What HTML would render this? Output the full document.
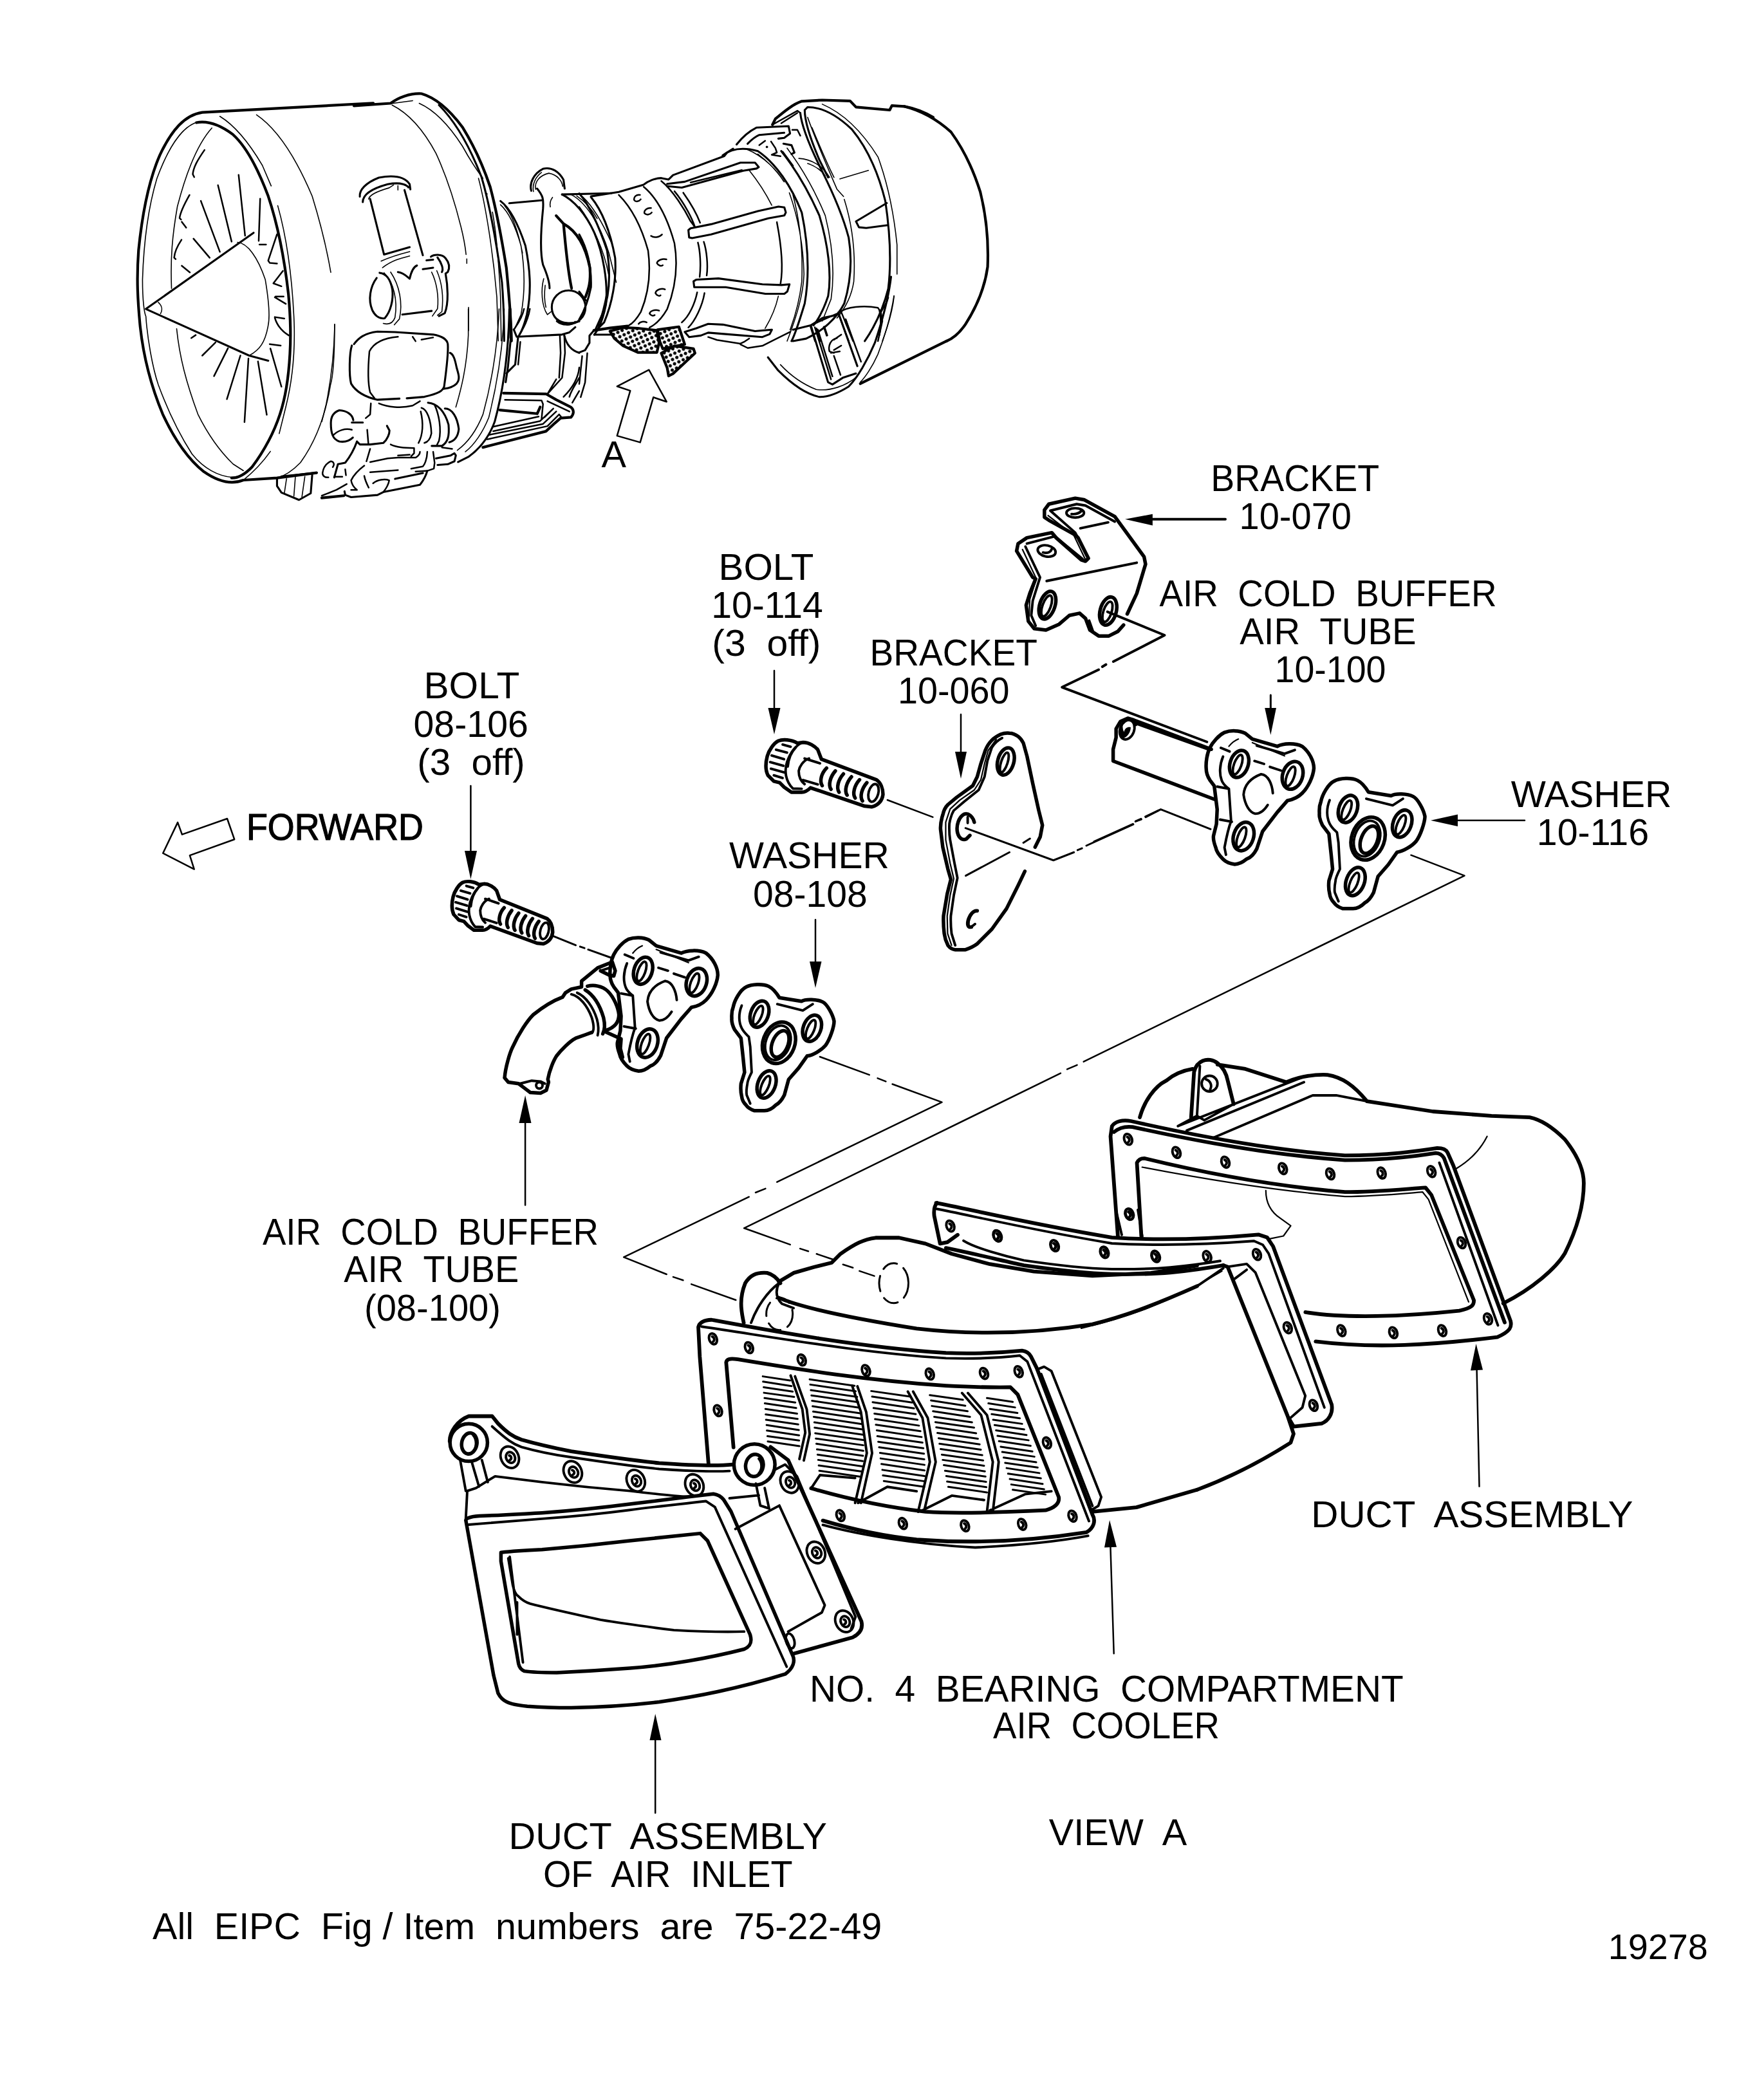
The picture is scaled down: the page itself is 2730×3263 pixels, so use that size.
<!DOCTYPE html>
<html><head><meta charset="utf-8"><title>Figure 19278</title>
<style>
html,body{margin:0;padding:0;background:#fff;}
body{width:2730px;height:3263px;overflow:hidden;}
svg{display:block;}
text{font-family:"Liberation Sans",sans-serif;font-size:58px;fill:#000;}
.k{fill:none;stroke:#000;stroke-width:3.1;stroke-linecap:round;stroke-linejoin:round;vector-effect:non-scaling-stroke;}
.t{fill:none;stroke:#000;stroke-width:1.6;stroke-linecap:round;stroke-linejoin:round;vector-effect:non-scaling-stroke;}
.m{fill:none;stroke:#000;stroke-width:2.5;stroke-linecap:round;stroke-linejoin:round;vector-effect:non-scaling-stroke;}
.h{fill:none;stroke:#000;stroke-width:4.2;stroke-linecap:round;stroke-linejoin:round;vector-effect:non-scaling-stroke;}
.w{fill:#fff;stroke:#000;stroke-width:3.1;stroke-linecap:round;stroke-linejoin:round;vector-effect:non-scaling-stroke;}
.p{fill:none;stroke:#000;stroke-width:5.5;stroke-linecap:round;stroke-linejoin:round;vector-effect:non-scaling-stroke;}
.heavy .h{stroke-width:5.8;}.heavy .k{stroke-width:3.9;}.heavy .m{stroke-width:3;}.heavy .t{stroke-width:2.2;}
.f{fill:#000;stroke:none;}
</style></head><body>
<svg width="2730" height="3263" viewBox="0 0 2730 3263">
<rect width="2730" height="3263" fill="#fff"/>
<!-- 10_fan.svg -->
<g id="fan" transform="translate(180,150) scale(0.22766)">
<!-- outer lip -->
<path class="h" d="M1757 45L590 108C470 125 380 230 300 400C230 560 180 800 155 1050C140 1250 150 1400 165 1560C190 1800 250 2000 320 2168C400 2340 500 2480 600 2560C700 2630 790 2650 870 2618L1100 2603L1370 2568"/>
<path class="t" d="M540 180C440 220 350 370 280 560C220 760 190 1000 182 1250C182 1400 195 1480 205 1500C215 1650 250 1850 290 1968C350 2130 430 2300 520 2440C600 2540 700 2590 790 2598C830 2596 850 2590 870 2573"/>
<!-- inner lip right -->
<path class="h" d="M550 178C620 165 700 185 800 260C900 350 980 520 1040 680C1100 860 1150 1100 1178 1350C1192 1500 1195 1640 1188 1757C1180 1900 1160 2050 1120 2168C1080 2290 1010 2420 930 2528C880 2580 830 2605 790 2603"/>
<path class="t" d="M710 135C800 190 900 300 1000 470L1060 610M1105 745C1160 940 1200 1200 1215 1500C1225 1700 1215 1900 1160 2118L1115 2300M1055 2422C1000 2500 930 2570 870 2618"/>
<path class="t" d="M960 125C1100 220 1230 420 1340 680C1420 940 1450 1100 1467 1200M1493 1555C1493 1750 1485 1900 1465 1968C1430 2180 1360 2360 1260 2498C1200 2560 1150 2590 1100 2603"/>
<!-- fan face inner ellipse -->
<path class="t" d="M655 215C560 320 480 520 420 750C385 950 372 1100 380 1310M415 1585C435 1780 480 1950 560 2168C640 2330 730 2440 800 2508L870 2553"/>
<!-- spinner -->
<path class="k" d="M940 930L205 1450L910 1768L1040 1803"/>
<path class="t" d="M830 995C900 1000 970 1100 1020 1250C1045 1400 1052 1500 1040 1560C1020 1680 980 1730 910 1768M290 1405C318 1430 318 1460 305 1482"/>
<!-- blades -->
<path class="m" d="M838 535L882 950M697 605L790 990M580 712L710 1060M530 970L640 1100M450 1155L505 1200M985 697L975 985M980 1010H1025M605 365C560 430 530 480 525 530L535 550M503 672C470 730 440 790 435 830L445 840M450 855L480 895M448 978C420 1020 400 1070 398 1100L408 1110M1100 940L1040 1120L1050 1135L1100 1140M1140 1190L1075 1275L1130 1295M1085 1370L1160 1415M1090 1365H1145M1085 1505L1150 1515M1085 1510C1100 1560 1130 1600 1180 1630M1050 1690L1125 1700M1055 1720L1130 1980M680 1678L590 1768M765 1718L670 1908M850 1768L758 2065M905 1788L878 2222M970 1808L1030 2172M545 1628L515 1648"/>
<!-- bottom stub -->
<path class="k" d="M1100 2603V2658L1130 2703L1250 2753L1330 2708L1340 2583M1130 2593L1370 2568"/>
<path class="t" d="M1165 2608L1150 2708M1225 2598L1215 2728M1290 2593L1270 2733"/>
</g>

<!-- 11_cowl.svg -->
<g id="cowl" transform="translate(550,120) scale(0.22766)">
<path class="h" d="M0 195L250 178C300 140 380 108 460 112C560 140 650 220 740 340C820 470 880 600 930 750C970 900 1000 1050 1040 1300C1060 1500 1072 1650 1075 1800"/>
<path class="k" d="M580 190C700 310 800 500 870 680C930 880 975 1150 1010 1400C1022 1550 1025 1700 1025 1800"/>
<path class="t" d="M445 178C550 225 650 330 740 470C800 580 850 650 880 690M250 180L400 160M260 190C380 250 480 370 560 520C620 650 680 820 730 1020C750 1100 760 1160 765 1210M770 1240V1270M782 1570V1730M945 920C970 1050 990 1300 1000 1500L1005 1800M850 690C900 880 950 1200 975 1500L985 1800"/>
<circle class="f" cx="905" cy="797" r="7"/>
<!-- core ring -->
<path class="k" d="M1000 845C1060 890 1120 1000 1170 1150C1200 1300 1215 1450 1180 1620C1160 1700 1140 1740 1130 1757M1060 860L1280 840"/>
<path class="t" d="M1000 870C1050 915 1100 1010 1140 1150C1165 1300 1172 1450 1140 1620L1095 1720M1030 880C1080 940 1120 1050 1150 1200"/>
<!-- inlet pipe -->
<path class="k" d="M40 815C35 770 80 720 170 685C280 665 350 685 380 730L385 765M60 852C60 800 120 760 230 730C330 712 365 740 372 752M110 830L205 1210L380 1160M345 770L470 1215"/>
<path class="t" d="M100 832C105 800 170 775 240 755L270 735M185 1255C250 1225 320 1205 380 1190M195 1300C260 1250 320 1235 380 1220M300 740V770"/>
<path class="k" d="M155 1370C110 1430 95 1520 125 1590C150 1640 185 1650 210 1645C250 1600 270 1520 262 1450C250 1380 220 1340 175 1335M330 1620L530 1595M300 1330C340 1335 360 1360 380 1375C390 1330 405 1295 430 1285"/>
<path class="t" d="M205 1335C270 1400 300 1520 280 1640C265 1680 235 1690 200 1680M250 1330C310 1420 335 1540 310 1650L275 1690M530 1330C565 1400 580 1500 570 1580L535 1630M565 1320C600 1400 612 1500 600 1600L570 1625"/>
<path class="k" d="M525 1225C545 1208 600 1205 625 1235C650 1265 655 1300 640 1330L625 1340C640 1420 648 1540 620 1610L580 1630M570 1230C600 1270 612 1310 600 1330M495 1250L540 1245M470 1310L540 1300"/>
<!-- clamp knob -->
<path class="k" d="M1210 775C1195 720 1230 655 1290 625C1350 610 1400 645 1430 700L1438 760M1250 760C1290 810 1295 830 1290 900C1275 1050 1270 1200 1290 1280C1320 1350 1335 1400 1335 1440M1420 800C1500 840 1580 930 1640 1060C1700 1200 1735 1400 1720 1550C1700 1650 1670 1720 1640 1757"/>
<path class="t" d="M1240 765C1230 710 1270 670 1330 655C1390 665 1420 710 1425 745M1225 780C1215 730 1240 680 1280 650M1355 820C1340 840 1335 860 1340 885M1295 1375C1275 1450 1280 1560 1320 1620L1345 1600M1305 1420C1298 1480 1300 1530 1310 1570"/>
<path class="h" d="M1380 945L1430 1000C1440 1100 1455 1300 1485 1440M1430 1000C1520 1050 1580 1150 1610 1300C1618 1400 1600 1450 1580 1500"/>
<circle class="k" cx="1465" cy="1570" r="115"/>
<path class="k" d="M1385 1665C1420 1695 1480 1695 1510 1670M1420 800L1757 792M1757 1757L1640 1757"/>
<path class="t" d="M1480 800C1580 850 1680 1000 1740 1200L1790 1400M1520 810C1580 850 1630 910 1660 965M1560 815C1640 890 1700 1000 1757 1130"/>
</g>

<!-- 12_gearbox.svg -->
<g id="gearbox" transform="translate(500,480) scale(0.22766)">
<path class="t" d="M88 105C85 300 60 500 30 650L0 770M1000 0V180C990 400 950 550 915 670M1210 0C1200 250 1160 500 1100 720C1060 820 1000 910 925 965M1245 0C1238 250 1200 500 1140 740C1100 840 1040 930 980 975"/>
<path class="k" d="M1280 0C1275 300 1240 550 1180 770C1140 880 1070 960 1000 1010L930 1045"/>
<!-- gearbox -->
<path class="k" d="M220 240C250 200 290 165 380 155L500 158L760 175C820 185 855 210 860 240C865 300 850 420 835 530C825 560 800 575 700 600L580 610M530 612L380 620C290 600 230 560 200 510C185 450 188 300 205 250M875 300C900 310 910 350 920 400C935 450 945 480 920 510C900 530 870 540 835 545"/>
<path class="m" d="M520 190C400 200 350 240 325 290C315 400 312 500 330 570L360 610M680 210L760 195M620 190L640 220M390 645C450 670 540 680 620 660L670 630M335 645L330 720L300 745"/>
<path class="k" d="M215 760C210 720 170 695 120 692C80 705 62 740 62 780C62 850 75 890 120 905C170 912 200 890 212 878M205 775H280M240 905L260 925H330L420 915C450 890 462 850 462 830L445 798"/>
<path class="m" d="M80 860C110 830 160 812 205 825M310 825L318 920"/>
<path class="k" d="M725 640C790 645 840 700 865 790C872 870 860 910 820 935H750M840 680C890 680 925 740 935 820C930 870 910 900 870 910"/>
<path class="m" d="M680 675C720 685 745 760 748 850C740 890 720 910 700 915M770 655C800 720 818 820 800 900L785 930M675 700C695 780 690 860 660 915M820 945L890 955"/>
<path class="m" d="M470 925C510 945 560 948 630 950V985L610 1005M330 1045L450 1020L520 1015H640C665 1000 670 990 670 975M520 1000L600 995M720 975C718 1030 700 1065 690 1075L610 1090M760 975L770 1050L765 1090L720 1105L640 1110"/>
<path class="k" d="M780 1020L880 1000L905 985L915 1000L905 1040L860 1060L790 1065M240 905C220 960 200 1000 160 1050L110 1060L85 1150"/>
<path class="m" d="M330 955L305 1040M290 1070C250 1100 215 1140 200 1170C205 1200 220 1220 240 1235H200M330 1115L520 1100M290 1140C295 1170 310 1200 320 1220M350 1190C380 1165 430 1158 460 1170C455 1200 440 1225 420 1250"/>
<path class="k" d="M500 1160L690 1120M720 1105C710 1140 690 1175 670 1200L420 1250L380 1270L200 1285L160 1270L155 1245"/>
<path class="h" d="M0 1290L150 1275"/>
<path class="m" d="M0 1275L100 1235L170 1195M75 1080C90 1060 80 1040 60 1040C30 1055 10 1085 5 1120C5 1140 20 1152 45 1150M85 1145H140M160 1095L165 1135"/>
<!-- right structure -->
<path class="h" d="M1285 0L1290 200"/>
<path class="k" d="M1310 140L1330 190L1640 175L1690 160L1730 125M1340 190L1320 380L1260 440M1290 200L1270 400L1255 500"/>
<path class="m" d="M1355 225L1340 380M1625 185L1630 300L1620 470M1655 180L1660 300L1640 470L1540 580M1600 480L1540 580M1757 400C1750 480 1700 550 1650 600M1757 470C1730 520 1700 560 1690 600M1757 560L1710 640M1420 0C1410 60 1380 130 1340 190M1380 0C1370 50 1340 100 1315 135"/>
<path class="k" d="M1655 180C1670 250 1710 285 1757 300M1605 70C1640 100 1700 105 1757 85"/>
<path class="h" d="M1240 575L1530 580L1600 620L1700 670C1725 690 1720 720 1700 740L1630 745M1215 690L1470 715L1490 670M1100 945L1530 835L1590 780L1630 745"/>
<path class="m" d="M1250 620L1500 625L1510 650L1500 750M1165 805L1480 735M1170 835L1490 765L1580 680M1140 860L1510 785L1600 700M1130 890L1540 800L1620 720L1640 745M1540 630L1690 700M1520 740L1580 680"/>
</g>

<!-- 13_core.svg -->
<defs><pattern id="dots" width="46" height="46" patternUnits="userSpaceOnUse" patternTransform="rotate(20)"><rect width="46" height="46" fill="#fff"/><circle cx="11" cy="11" r="11" fill="#000"/><circle cx="34" cy="34" r="11" fill="#000"/></pattern></defs>
<g id="core" transform="translate(900,230) scale(0.22766)">
<path class="k" d="M0 310C60 380 130 520 190 700C215 860 210 1000 160 1130L110 1240M80 335C150 420 210 560 245 750C255 900 225 1060 170 1190L130 1230M0 590C50 680 85 800 80 950C60 1050 30 1120 0 1170M0 980L45 1040"/>
<path class="t" d="M0 400C90 520 170 700 200 860M185 1000C170 1080 150 1150 130 1215"/>
<path class="k" d="M80 330L270 300L440 250C470 225 520 205 560 205L610 215L640 185L990 55L1010 30L1050 5"/>
<path class="m" d="M270 320C350 400 420 520 470 700C490 850 470 1000 420 1120C390 1170 360 1200 340 1210M440 265C530 340 600 470 650 650C675 800 655 960 600 1100C560 1170 520 1205 480 1225M560 225C640 290 720 420 760 500L790 540M650 295C720 380 770 480 790 540M710 305C770 390 810 470 825 510M810 645C825 700 832 800 822 880M850 640C870 700 880 800 870 870M805 985C790 1060 750 1150 700 1190M855 990C840 1080 790 1180 745 1225"/>
<path class="m" d="M415 320C390 315 370 335 375 355C385 370 410 365 420 350M490 410C465 405 440 425 445 445C460 460 485 455 495 440M490 600C510 615 545 610 565 590M595 760C570 752 535 765 530 785C540 805 560 808 570 800M585 965C565 955 525 965 520 990C530 1010 550 1012 555 1005M545 1110C520 1100 485 1110 480 1130C490 1145 505 1148 515 1140M460 1190C440 1180 415 1185 405 1200"/>
<!-- struts -->
<path class="k" d="M600 260L700 270L1120 155L1210 140L1225 130L1200 100H1100L720 230L600 245M745 560L750 610L770 615L900 590L1290 480L1400 460L1410 440L1400 405L1360 400L1220 430L900 520L760 548ZM780 910L785 950H1000L1270 995H1400L1420 980L1435 930L1380 935L1250 930L950 890L800 898ZM720 1255L750 1290L830 1280L880 1260L1000 1270L1250 1290L1300 1270L1315 1240L1200 1250L980 1205L880 1200L800 1230Z"/>
<path class="m" d="M760 235L1110 150M880 1290L940 1310L1100 1335L1130 1320L1160 1300M1100 1340L1150 1365L1250 1350L1330 1310L1440 1255"/>
<!-- right rings -->
<path class="k" d="M1460 1240L1580 1210L1660 1160L1757 1140"/>
<!-- dotted cooler -->
<path class="h" style="fill:url(#dots)" d="M210 1250L240 1300L300 1350L400 1395H530L545 1330L530 1245L400 1230L300 1225ZM535 1240L680 1220L720 1340L570 1370L550 1320ZM560 1400L650 1350L780 1370L790 1400L640 1540L610 1555L600 1500Z"/>
<path class="h" d="M100 1245L210 1228L330 1215"/>
<path class="k" d="M100 1245L70 1280V1330L40 1380L0 1395"/>
<path class="m" d="M20 1420L0 1610M55 1400L40 1600L10 1700"/>
</g>

<!-- 14_turbine.svg -->
<g id="turbine" transform="translate(1050,130) scale(0.22766)">
<path class="k" d="M320 490C370 450 450 430 560 460C680 540 790 700 860 880C905 1100 915 1300 880 1500C850 1600 820 1700 790 1757M720 460C800 560 900 720 980 900C1040 1100 1065 1300 1040 1450C1010 1540 980 1600 940 1650M850 200C860 300 930 460 1000 600C1080 760 1140 900 1180 1050C1205 1200 1195 1350 1150 1500C1100 1600 1000 1690 890 1740L800 1757"/>
<path class="t" d="M490 450C600 495 700 600 735 665M775 745C830 900 870 1100 875 1300C870 1450 820 1600 760 1757M560 480C660 555 720 640 740 670M800 760C850 950 868 1150 860 1350C845 1480 810 1600 780 1680M760 440C850 560 950 730 1020 900C1070 1100 1085 1300 1060 1470L1000 1620M1150 790C1200 950 1228 1150 1215 1350C1200 1450 1150 1540 1100 1600"/>
<path class="h" d="M660 280L680 240C740 190 800 140 860 120L1000 112L1190 118L1230 160L1460 180L1475 150L1560 155C1640 170 1700 195 1757 230"/>
<path class="m" d="M660 280L830 185L850 200M720 270L830 200"/>
<!-- nozzle front ring -->
<path class="k" d="M880 180L900 160C1000 160 1100 215 1200 310C1300 430 1380 600 1430 800C1460 1000 1475 1200 1450 1400C1420 1520 1370 1640 1290 1757M880 180C880 260 920 380 980 520L1040 640M1440 815L1230 940L1250 980L1300 985L1450 965"/>
<path class="t" d="M1000 140C1150 205 1280 340 1380 500C1450 690 1490 900 1510 1100V1300M1490 1450C1480 1550 1450 1650 1410 1757M900 230C960 400 1040 580 1100 720L1145 770M930 300C1000 470 1050 580 1080 640M1120 650L1315 592M840 510C920 515 1000 555 1050 640M900 545C960 565 1000 600 1020 630"/>
<path class="m" d="M1120 1560C1160 1525 1280 1510 1380 1530L1400 1560L1440 1490L1450 1460M1400 1560L1410 1620L1380 1757M920 1650L1100 1570L1120 1560M1110 1570L1180 1757M1130 1560L1210 1757M920 1660L950 1757M960 1670L985 1757M1160 1610L1190 1700M1010 1660L1030 1720"/>
<!-- top-left bracket -->
<path class="k" d="M415 415C450 370 490 330 550 300L770 290L780 340L740 370L700 375M490 410C520 380 545 360 570 350L740 335M735 410L790 420L810 470L790 480"/>
<path class="m" d="M570 420L610 390M650 395L680 440L690 470L655 485L715 495M795 315H830L850 355M730 465L800 560"/>
<circle class="f" cx="622" cy="432" r="8"/>
<!-- combustor arcs -->
<path class="t" d="M500 590C580 690 630 780 655 830M700 1450C680 1540 640 1620 610 1670"/>
<path class="m" d="M690 945C720 1100 735 1250 715 1365"/>
</g>

<!-- 15_nozzle.svg -->
<g id="nozzleA" transform="translate(1250,130) scale(0.22766)">
<path class="h" d="M680 155C800 185 900 240 1000 330C1080 440 1150 580 1200 740C1240 900 1258 1060 1250 1250C1230 1400 1170 1530 1100 1640C1060 1700 1010 1740 970 1757"/>
</g>
<g id="nozzleB" transform="translate(1150,430) scale(0.22766)">
<path class="h" d="M1409 439L820 730"/>
<path class="k" d="M1030 0C1015 130 970 300 920 450C870 570 800 690 740 750C660 800 600 822 540 820C440 800 340 720 260 640L190 550"/>
<path class="t" d="M1050 130C1030 260 990 400 940 530C900 620 850 690 820 720M275 600C340 670 420 730 520 770C620 782 720 745 800 680"/>
<path class="k" d="M485 340L600 720L630 735L700 690L790 660M670 245L800 610"/>
<path class="m" d="M950 225C965 290 960 350 950 400M720 290L825 580M510 345L620 700M530 360L630 680M575 340L595 400M640 540L685 670M660 420C620 425 598 470 610 510L640 520M640 430L690 395M640 500L690 470M620 520L680 510"/>
</g>

<!-- 20_bracket070.svg -->
<g id="bracket070" class="heavy" transform="translate(1550,740) scale(0.22766)">
<path class="p" d="M885 940L950 800L1010 600L1000 550L800 275L590 160L530 150L350 190L320 230V280L350 300L530 400L550 420L620 560L600 580L570 570L400 420L370 385L200 420L140 460L130 510L240 690L260 700L220 800L195 880L210 990L250 1040L330 1050L420 1010L490 950L560 935L600 970L630 1050L690 1090H760L820 1060L860 1015"/>
<path class="k" d="M360 235L540 190L600 200L800 310M360 235L530 385L610 545M200 460L390 410L580 565M190 480L290 690L240 850L230 950L260 1020M565 355L755 315M335 715L950 590M625 985L650 1055"/>
<path class="t" d="M345 268L520 402L600 570M170 500L265 700L220 840L215 960"/>
<ellipse class="k" cx="530" cy="250" rx="60" ry="32"/><path class="k" d="M575 235C560 250 540 262 505 258"/>
<ellipse class="k" cx="335" cy="510" rx="62" ry="38" transform="rotate(12 335 510)"/><path class="k" d="M370 495C365 515 345 528 310 520"/>
<ellipse class="p" cx="340" cy="880" rx="52" ry="98" transform="rotate(18 340 880)"/><ellipse class="k" cx="335" cy="885" rx="28" ry="75" transform="rotate(20 335 885)"/>
<ellipse class="p" cx="755" cy="920" rx="55" ry="98" transform="rotate(15 755 920)"/><ellipse class="k" cx="750" cy="925" rx="28" ry="72" transform="rotate(18 750 925)"/>
<path class="k" d="M750 925L1140 1085L790 1265M740 1285L715 1300M690 1320L440 1440L1429 1813M1555 293H1050"/>
<path class="f" d="M870 293L1058 258V336Z"/>
</g>

<!-- 21_tube100.svg -->
<defs><g id="flange" class="heavy">
<path class="p" d="M790 360C810 320 850 275 890 255C930 240 990 240 1030 260L1080 300L1250 350C1290 330 1370 325 1420 350C1470 390 1500 450 1500 500C1495 560 1460 630 1420 670C1390 700 1350 715 1320 720L1250 800L1150 930L1110 1050C1090 1090 1070 1110 1040 1120C1010 1145 990 1155 960 1155C920 1150 900 1140 880 1120C850 1090 835 1070 830 1040C815 1000 812 980 815 960L835 880L840 780L820 620L790 580C770 550 765 520 765 500C762 460 770 400 790 360Z"/>
<path class="k" d="M880 420C855 480 855 540 870 580C880 610 900 625 920 640L935 860C920 900 905 960 890 1040L900 1090M840 625L920 640M860 850L940 865M865 360L925 385M1110 345L1300 400L1370 375M1095 450L1160 470M1200 490L1275 515"/>
<path class="t" d="M920 350C940 325 960 310 985 300M1080 325L1300 415"/>
<ellipse class="p" cx="990" cy="470" rx="62" ry="95" transform="rotate(18 990 470)"/><ellipse class="k" cx="980" cy="475" rx="25" ry="70" transform="rotate(20 980 475)"/>
<ellipse class="p" cx="1355" cy="548" rx="68" ry="97" transform="rotate(18 1355 548)"/><ellipse class="k" cx="1340" cy="555" rx="25" ry="70" transform="rotate(20 1340 555)"/>
<ellipse class="p" cx="1020" cy="965" rx="68" ry="100" transform="rotate(18 1020 965)"/><ellipse class="k" cx="1005" cy="970" rx="25" ry="72" transform="rotate(20 1005 970)"/>
<path class="k" d="M1185 750C1160 790 1130 810 1100 810C1060 800 1030 750 1020 680C1025 620 1060 570 1140 540C1190 545 1215 610 1220 670"/>
</g></defs>
<g id="tube100" class="heavy" transform="translate(1700,1080) scale(0.22766)">
<path class="p" d="M285 200L270 170L230 158L180 180L150 230V290L130 370V450L830 715M270 170L800 370"/>
<ellipse class="k" cx="225" cy="237" rx="48" ry="68" transform="rotate(20 225 237)"/>
<path class="f" d="M195 195C170 230 170 280 190 300C230 290 250 250 250 220C230 215 210 225 205 250C195 240 195 215 195 195Z"/>
<path class="k" d="M300 200L770 368"/>
<use href="#flange"/>
<path class="m" d="M1205 0V100M795 915L455 780L350 830M320 845L285 860M265 880L0 1000"/>
<path class="f" d="M1205 272L1165 88H1243Z"/>
</g>

<!-- 22_washer116.svg -->
<defs><g id="washer" class="heavy">
<path class="p" d="M230 420C240 370 280 300 320 280C360 258 440 255 480 275C510 290 540 330 555 355L710 380C740 362 820 365 860 385C890 400 930 470 940 520C940 560 910 650 880 690C850 725 790 760 750 765L690 850L620 930L590 1040C570 1080 550 1100 530 1110C500 1140 470 1150 450 1150H380C350 1140 330 1125 320 1110C300 1090 292 1070 290 1050C282 1020 282 990 285 960L310 880L300 780L285 640L240 580C225 550 218 520 220 500C218 470 222 440 230 420Z"/>
<path class="k" d="M290 410C265 470 270 530 290 570C305 600 325 615 340 630L350 700L360 880C345 910 330 940 330 960C322 1000 322 1020 325 1040L350 1100M540 400L720 445L790 400"/>
<ellipse class="p" cx="415" cy="470" rx="62" ry="96" transform="rotate(20 415 470)"/><ellipse class="k" cx="405" cy="478" rx="25" ry="70" transform="rotate(22 405 478)"/>
<ellipse class="p" cx="785" cy="570" rx="62" ry="96" transform="rotate(20 785 570)"/><ellipse class="k" cx="775" cy="578" rx="25" ry="70" transform="rotate(22 775 578)"/>
<ellipse class="p" cx="465" cy="965" rx="62" ry="100" transform="rotate(20 465 965)"/><ellipse class="k" cx="455" cy="973" rx="25" ry="72" transform="rotate(22 455 973)"/>
<ellipse class="p" cx="552" cy="672" rx="112" ry="150" transform="rotate(20 552 672)"/><ellipse class="p" cx="560" cy="680" rx="55" ry="98" transform="rotate(22 560 680)"/><ellipse class="k" cx="545" cy="672" rx="85" ry="125" transform="rotate(20 545 672)"/>
</g></defs>
<g class="heavy"><use href="#washer" transform="translate(2000,1150) scale(0.22766)"/></g>


<!-- 23_bolt114.svg -->
<defs><g id="bolt" class="heavy">
<path class="p" d="M185 330C195 290 230 240 260 225C290 212 350 215 390 240L430 235C470 235 510 260 530 285L555 350L930 490C960 510 975 550 975 590C970 630 950 660 900 675L850 670L480 545C460 565 440 575 420 575H350L300 540L270 510L230 500L190 460C175 430 172 380 185 330Z"/>
<path class="k" d="M430 235C380 250 340 310 320 370C300 430 310 500 360 550L420 552M470 345C430 360 405 400 400 430C400 470 415 500 440 520M440 345L545 378M430 492L530 522"/>
<path class="k" d="M290 250L345 265M245 285L320 305M215 325L300 350M205 370L295 395M210 415L300 440M230 460L290 478M380 270C350 300 330 350 325 400"/>
<path class="p" d="M590 410C555 445 540 500 560 530M650 430C615 470 600 525 620 555M705 450C670 490 655 545 675 575M760 470C725 510 710 565 730 595M815 490C780 530 765 585 785 615M865 510C830 550 815 605 835 635"/>
<ellipse class="k" cx="910" cy="580" rx="33" ry="62" transform="rotate(15 910 580)"/>
</g></defs>
<g class="heavy"><use href="#bolt" transform="translate(1150,1100) scale(0.22766)"/></g>
<g transform="translate(1150,1100) scale(0.22766)"><path class="m" d="M1005 628L1315 745"/></g>

<!-- 24_bracket060.svg -->
<g id="bracket060" class="heavy" transform="translate(1400,1100) scale(0.22766)">
<path class="p" d="M915 950L950 880L965 800L940 700L900 520L860 330L835 240C820 210 800 195 800 195C780 180 760 172 740 172C720 170 700 172 680 180C660 190 640 200 620 220C600 240 585 265 575 290L545 380L520 470L490 530L380 610L320 660C300 680 290 705 285 730C272 770 268 800 270 830L285 950L320 1100L340 1170L315 1270L290 1420C288 1470 290 1500 295 1540C300 1580 310 1600 320 1620C335 1640 350 1648 370 1650H440C470 1640 500 1625 520 1610L620 1510L720 1370L800 1210L845 1115"/>
<path class="k" d="M690 205C660 220 635 245 620 270L590 360L570 470L530 560L430 640L360 700C345 725 335 760 330 790C328 830 330 870 335 900L365 1060L385 1160L360 1280L340 1420C338 1470 340 1500 345 1540L370 1620"/>
<path class="t" d="M650 215L595 290L570 380L545 490L500 560L400 630L335 690L305 780V900L335 1060L360 1165L335 1280L315 1420L318 1540L345 1620"/>
<ellipse class="p" cx="715" cy="365" rx="55" ry="95" transform="rotate(15 715 365)"/><ellipse class="k" cx="705" cy="372" rx="22" ry="70" transform="rotate(18 705 372)"/>
<path class="p" d="M500 780C490 740 460 715 430 725C395 745 375 800 385 850C395 890 420 905 445 895L470 870"/>
<path class="k" d="M455 745V785M520 1385C500 1375 480 1400 465 1440C455 1480 460 1500 480 1495L505 1475"/>
<path class="p" d="M520 1385C495 1380 470 1410 458 1450C450 1485 460 1500 480 1495"/>
<path class="m" d="M440 820L1040 1040L1180 985M1205 970L1235 958M1265 940L1585 795M1600 775L1640 760M1670 745L1757 700M442 1145L740 985M835 920L880 892"/>
</g>

<!-- 25_tube08.svg -->
<g id="tube08" class="heavy" transform="translate(660,1340) scale(0.22766)">
<use href="#bolt" transform="translate(34.5,-72) scale(0.86,0.93)"/>
<path class="m" d="M870 500L1030 565M1060 575L1090 585M1115 595L1270 650"/>
<path class="p" d="M545 1470C550 1400 580 1300 600 1260C640 1170 700 1080 740 1040C790 1000 860 950 940 920L960 890L1000 865L1070 850V810L1180 720L1280 680L1300 740L1290 775L1260 770L1200 740M840 1480C850 1420 880 1350 900 1320C930 1280 990 1220 1030 1200L1100 1175L1140 1160M545 1470L570 1500L640 1510L680 1540L720 1570L790 1575L830 1555L845 1500L840 1480"/>
<path class="k" d="M650 1510L730 1490L790 1495L820 1510M1200 740L1260 720"/>
<circle class="k" cx="782" cy="1522" r="22"/>
<path class="k" d="M1000 900C1060 915 1110 980 1140 1060C1155 1110 1155 1150 1140 1165M1040 890C1100 915 1150 990 1175 1070C1188 1120 1185 1160 1180 1180"/>
<path class="p" d="M1095 870C1160 910 1200 990 1220 1060C1232 1110 1225 1150 1215 1170M1110 845C1150 835 1210 840 1250 880C1290 920 1320 990 1325 1040C1325 1090 1300 1125 1240 1145M1240 1160L1340 1205L1335 1270L1350 1330"/>
<use href="#flange" transform="translate(499.9,269.25)"/>
</g>
<g class="heavy"><use href="#washer" transform="translate(940,1440) scale(0.22766) translate(652,140) scale(0.97)"/></g>

<!-- 30_ductR.svg -->
<defs><g id="bh" class="heavy"><ellipse class="k" cx="0" cy="0" rx="13" ry="19" transform="rotate(-20)"/><path class="k" d="M-3 -8C5 -5 7 5 0 10"/></g></defs>
<g id="ductR" class="heavy" transform="translate(1680,1620) scale(0.45532)">
<!-- body -->
<path class="h" d="M200 255C215 200 250 150 290 130C320 105 350 95 380 90M375 255L385 100C390 80 400 68 415 62C430 56 450 58 465 70C485 85 495 105 500 130L520 210M465 75L560 90L700 135M700 135C740 118 790 108 840 110C890 118 930 145 975 200L1200 235L1400 250L1530 255C1580 265 1620 300 1650 330C1690 380 1715 430 1715 480C1715 540 1700 620 1650 720C1620 770 1540 840 1440 890"/>
<path class="k" d="M330 285L750 120M360 300L760 135M450 325L790 180H870L975 200M405 80L395 250L330 285M395 250L420 265L520 210"/>
<circle class="k" cx="438" cy="140" r="27"/><path class="k" d="M425 125C440 130 448 145 440 160"/>
<path class="t" d="M630 505C630 550 650 580 680 600L715 625L690 660L640 670M1280 430C1330 400 1365 360 1385 320M0 975C150 940 300 890 480 780"/>
<!-- flange outer -->
<path class="h" d="M125 660L100 320L105 285C115 270 140 262 170 268C400 320 650 368 900 385C1050 385 1150 370 1215 360C1235 360 1245 365 1250 375L1270 420L1465 950C1470 970 1465 985 1420 1005C1200 1032 1000 1045 800 1020"/>
<path class="h" d="M112 305C130 290 150 285 175 288C400 338 650 384 900 401C1050 401 1150 386 1210 377C1225 378 1232 384 1238 394L1445 955"/><path class="k" d="M1222 410L1422 965"/>
<!-- opening -->
<path class="h" d="M205 660L190 410C195 400 205 395 215 395C400 440 650 490 900 510C1000 510 1100 500 1175 495L1195 520L1340 880C1340 895 1335 905 1290 915C1100 935 900 942 765 920"/>
<path class="t" d="M208 425C400 462 650 505 900 525C1000 525 1100 515 1165 510L1185 535L1322 885"/>
<use href="#bh" x="160" y="330"/><use href="#bh" x="325" y="375"/><use href="#bh" x="492" y="408"/><use href="#bh" x="688" y="430"/><use href="#bh" x="850" y="448"/><use href="#bh" x="1025" y="445"/><use href="#bh" x="1195" y="440"/><use href="#bh" x="165" y="585"/><use href="#bh" x="1298" y="683"/><use href="#bh" x="1388" y="943"/><use href="#bh" x="888" y="983"/><use href="#bh" x="1065" y="990"/><use href="#bh" x="1232" y="983"/>
</g>

<!-- 31_cooler.svg -->
<g id="cooler" class="heavy" transform="translate(1060,1880) scale(0.45532)">
<!-- top body -->
<path class="h" d="M330 245L380 215L450 195L510 180L540 150C590 115 620 100 660 95H740L830 115L920 150L1050 185L1200 210L1400 225L1600 215L1757 190M330 300C400 330 550 365 800 405C1000 428 1200 422 1400 390C1500 365 1600 330 1757 260"/>
<path class="h" d="M210 385C200 340 195 300 215 250C230 225 250 212 290 215C310 220 325 235 335 250"/>
<path class="k" d="M235 385C255 330 290 280 330 250C318 275 320 300 340 320L380 335"/>
<ellipse class="m" cx="332" cy="355" rx="45" ry="55" stroke-dasharray="22 12"/>
<ellipse class="m" cx="722" cy="250" rx="50" ry="68" stroke-dasharray="24 12"/>
<!-- front flange -->
<path class="h" d="M90 870L60 500L55 400C58 385 75 375 100 375C300 412 600 468 900 488C1000 492 1100 486 1160 480C1175 482 1185 490 1190 500L1210 540L1400 1040C1412 1060 1405 1085 1380 1100C1200 1128 1000 1140 800 1125C700 1115 580 1090 480 1060"/>
<path class="k" d="M66 398C300 432 600 487 900 506C1000 509 1100 503 1152 497L1178 518L1388 1062M480 1075C600 1108 800 1142 1000 1152C1200 1142 1300 1128 1385 1112"/>
<path class="h" d="M175 810L150 520C152 510 160 505 190 510C400 545 620 580 900 600C1000 605 1060 606 1120 605L1145 630L1285 980C1288 1000 1275 1015 1240 1025C1040 1035 900 1035 830 1030C700 1015 560 985 440 950"/>
<!-- dividers -->
<path class="k" d="M370 565L410 680L420 760L400 850M385 568L425 680L435 765L415 855M580 600L610 690L630 830L590 1000M598 602L628 690L648 830L610 1000M770 620L820 710L845 860L805 1030M788 620L838 710L865 860L825 1030M955 625L1020 700L1060 860L1040 1030M975 625L1040 700L1080 860L1060 1030M600 1000L700 945L800 960M820 1025L920 975L1030 990M1050 1025L1170 970L1260 960M440 950L470 905L590 915"/>
<path class="m" d="M275 568 L368 582M276 586 L373 601M278 605 L377 620M279 624 L382 638M281 642 L386 657M282 660 L389 676M284 679 L392 695M285 698 L394 713M286 716 L396 732M288 734 L398 751M289 753 L399 769M291 772 L399 787M292 790 L400 806M435 578 L588 600M437 596 L592 619M439 615 L597 638M441 633 L601 656M443 651 L604 675M445 670 L608 694M447 688 L611 712M449 706 L613 731M451 725 L615 749M452 743 L617 767M454 762 L618 785M456 780 L618 803M458 798 L618 822M460 817 L617 839M462 835 L616 857M464 853 L615 875M466 872 L614 893M468 890 L612 911M645 618 L778 637M648 637 L785 657M650 656 L791 677M653 676 L797 697M656 695 L803 716M658 714 L808 736M661 733 L813 755M664 752 L817 775M666 772 L820 794M669 791 L823 813M672 810 L825 832M675 829 L826 851M677 848 L827 870M680 867 L827 889M683 887 L827 908M685 906 L827 926M688 925 L826 945M845 632 L958 648M849 650 L966 668M852 669 L974 687M856 687 L982 706M860 706 L989 725M864 724 L996 743M867 742 L1003 762M871 761 L1009 781M875 779 L1015 800M878 798 L1019 818M882 816 L1024 837M886 835 L1027 855M889 853 L1030 873M893 871 L1033 892M897 890 L1035 910M901 908 L1037 928M904 927 L1038 946M908 945 L1040 964M1040 642 L1128 655M1045 660 L1136 674M1050 679 L1144 693M1056 697 L1152 711M1061 716 L1160 730M1066 734 L1167 749M1071 752 L1175 768M1076 771 L1182 786M1081 789 L1189 805M1087 808 L1195 824M1092 826 L1202 842M1097 845 L1208 861M1102 863 L1213 879M1107 881 L1219 898M1112 900 L1224 916M1118 918 L1230 935M1123 937 L1235 953M1128 955 L1240 971"/>
<!-- right side plate -->
<path class="k" d="M1210 545L1235 535L1260 550L1430 980L1420 1010L1395 1025M1225 560L1400 1010"/><path class="h" d="M1400 1030L1550 1015L1757 955"/>
<!-- rear flange top edge -->
<path class="h" d="M905 110L880 115L860 20C858 0 860 -15 870 -24M905 110L940 85M900 130C1000 150 1100 175 1166 189C1300 208 1400 217 1466 219C1550 220 1620 218 1666 214C1750 205 1800 197 1846 189"/>
<path class="k" d="M960 105C1000 130 1100 158 1166 172C1300 192 1400 200 1466 202C1550 203 1620 200 1666 196C1750 188 1800 180 1836 174M1480 0L1500 85M1555 0L1570 90"/>
<use href="#bh" x="105" y="440"/><use href="#bh" x="228" y="470"/><use href="#bh" x="408" y="512"/><use href="#bh" x="627" y="548"/><use href="#bh" x="845" y="560"/><use href="#bh" x="1030" y="558"/><use href="#bh" x="1148" y="552"/><use href="#bh" x="122" y="685"/><use href="#bh" x="1245" y="795"/><use href="#bh" x="1332" y="1045"/><use href="#bh" x="540" y="1043"/><use href="#bh" x="753" y="1070"/><use href="#bh" x="965" y="1078"/><use href="#bh" x="1160" y="1073"/><use href="#bh" x="915" y="55"/><use href="#bh" x="1075" y="88"/><use href="#bh" x="1270" y="122"/><use href="#bh" x="1440" y="145"/><use href="#bh" x="1615" y="158"/><use href="#bh" x="1525" y="15"/>
</g>

<!-- 32_coolerRear.svg -->
<g id="coolerRear" class="heavy" transform="translate(1500,1850) scale(0.45532)">
<path class="h" d="M-100 42C0 60 200 110 500 160C650 170 800 168 1000 150L1030 160L1050 190L1250 730C1255 760 1240 785 1215 795L1120 805M880 255L895 260L1100 770L1120 805M790 1021C900 980 1000 930 1110 860L1120 830L1100 770"/>
<path class="k" d="M-100 62C0 80 200 130 500 180C650 188 800 186 985 172L1015 185L1035 215L1225 740M895 260L960 250L990 280L1160 700L1150 740L1110 775M920 300L960 270M791 326L880 265"/>
<use href="#bh" x="110" y="155"/><use href="#bh" x="305" y="188"/><use href="#bh" x="475" y="210"/><use href="#bh" x="650" y="225"/><use href="#bh" x="825" y="225"/><use href="#bh" x="995" y="218"/><use href="#bh" x="1100" y="468"/><use href="#bh" x="1188" y="733"/>
</g>

<!-- 33_ductL.svg -->
<defs><g id="bb" class="heavy"><ellipse class="k" cx="0" cy="0" rx="30" ry="38" transform="rotate(-25)"/><ellipse class="k" cx="2" cy="2" rx="15" ry="19" transform="rotate(-25)"/><path class="k" d="M-2 -6C6 -4 8 6 0 10"/></g></defs>
<g id="ductL" class="heavy" transform="translate(660,2180) scale(0.45532)">
<!-- rear frame -->
<circle class="p" cx="150" cy="135" r="64"/><ellipse class="p" cx="152" cy="138" rx="26" ry="36" transform="rotate(10 152 138)"/><path class="k" d="M165 110C178 125 178 150 165 165"/>
<path class="h" d="M85 130C85 100 110 60 150 45H230L250 70C280 100 300 115 330 125C400 145 450 155 500 165C600 180 700 195 800 205C900 212 1000 215 1050 210"/>
<path class="k" d="M230 80C280 125 300 140 330 150C400 170 450 178 500 185C600 200 700 215 800 225C900 232 1000 234 1040 232M175 290L240 250C300 258 350 264 400 270C500 282 600 292 700 300C800 312 860 318 900 320L945 315M140 395L145 300L175 290M160 200L185 285M195 195L215 270M120 190L140 300"/>
<use href="#bb" x="290" y="185"/><use href="#bb" x="505" y="235"/><use href="#bb" x="720" y="265"/><use href="#bb" x="920" y="280"/>
<!-- right lug & arm -->
<circle class="p" cx="1125" cy="210" r="70"/><ellipse class="p" cx="1125" cy="213" rx="30" ry="38" transform="rotate(10 1125 213)"/><path class="k" d="M1140 190C1152 205 1152 225 1140 240"/>
<path class="h" d="M1180 150L1240 195L1490 745C1495 765 1490 785 1460 800L1260 855"/>
<path class="k" d="M1190 230L1230 210L1270 250L1470 730L1455 770M1210 350L1365 690L1355 715L1240 780M1130 275L1145 350L1175 360L1160 290M1060 430L1210 350M1040 325L1140 315"/>
<use href="#bb" x="1245" y="270"/><use href="#bb" x="1335" y="510"/><use href="#bb" x="1432" y="745"/>
<ellipse class="k" cx="1247" cy="812" rx="14" ry="26" transform="rotate(-15 1247 812)"/>
<!-- front frame -->
<path class="p" d="M140 400C142 392 160 386 200 385C280 382 340 378 400 375C500 368 600 358 700 345C800 332 850 326 900 320L985 310C1000 312 1012 320 1020 330L1045 370L1255 860C1265 880 1258 905 1230 925C1150 950 1080 968 1000 985C930 1000 870 1010 800 1020C700 1032 600 1038 500 1040C440 1040 390 1038 350 1035C320 1032 295 1028 280 1020C262 1012 255 1000 250 990L235 930Z"/>
<path class="k" d="M150 415C280 405 340 400 400 395C500 388 600 378 700 365C800 352 900 342 960 335L990 355L1235 900"/>
<path class="p" d="M260 510C300 505 350 502 400 500C500 492 600 482 700 470C800 460 880 452 940 445L965 470L1110 790C1118 815 1112 830 1090 840C1020 858 960 870 900 880C830 892 770 900 700 905C610 912 520 917 450 920C400 920 360 918 340 915C328 910 322 900 320 890L260 540Z"/>
<path class="k" d="M285 530L300 620C305 645 312 655 320 660C330 670 345 680 360 685C450 708 520 722 600 740C690 755 770 765 850 775C940 780 1020 782 1090 780M290 525L335 885M315 680V790"/>
</g>

<!-- 80_arrows.svg -->
<g id="arrows" class="m">
<!-- leader arrows -->
<path d="M1203 1042V1110"/><path class="f" d="M1203 1141L1193.5 1100H1212.5Z"/>
<path d="M1493 1110V1180"/><path class="f" d="M1493 1210L1484 1168H1502Z"/>
<path d="M731.4 1221V1330"/><path class="f" d="M731.4 1366L722 1322H741Z"/>
<path d="M1267 1429V1500"/><path class="f" d="M1267 1535L1258 1494H1276.5Z"/>
<path d="M2369 1274.7H2260"/><path class="f" d="M2223 1274.7L2265 1265.5V1284Z"/>
<path d="M816.1 1872.5V1740"/><path class="f" d="M816.1 1702L806.5 1745H825.5Z"/>
<path d="M2298.5 2309.6L2294.5 2125"/><path class="f" d="M2293.5 2088L2285 2129.5L2304 2128.5Z"/>
<path d="M1730.7 2569.3L1725.3 2400"/><path class="f" d="M1724.1 2362L1716 2404.5L1735 2403.8Z"/>
<path d="M1018.2 2817V2700"/><path class="f" d="M1018.2 2663L1009.5 2704H1027.5Z"/>
<!-- bracket 10-070 arrow -->
<!-- forward arrow -->
<path d="M276.1 1277.9L282.9 1296.6L353 1272L364.2 1304.2L294.9 1329.1L301.7 1350.6L253.2 1325.7Z"/>
<!-- arrow A -->
<path d="M1008.3 574.7L958.8 600.3L979.3 607.1L958.8 677.1L994.7 687.4L1015.2 617.3L1035.7 624.2Z"/>
</g>

<!-- 81_leaders.svg -->
<g id="leaders" class="m">
<path d="M2192.4 1328.7L2275.5 1360.6L1683.7 1649.6M1673.5 1654.8L1658.1 1661.4M1647.9 1667.6L1156.1 1908.3L1227.8 1933.9M1243.2 1940.1L1256 1944.2M1268.8 1948.3L1294.4 1957M1309.8 1964.7L1325.2 1969.8M1335.4 1974.9L1358.5 1982.6"/>
<path d="M1273.9 1642L1350.8 1670.1M1363.6 1675.3L1376.4 1680.4M1386.6 1684.5L1463.5 1712.6L1207.3 1836.6M1189.4 1846.9L1174 1853M1163.8 1859.7L969.2 1953.4L1035.7 1980M1046 1984.1L1061.4 1989.3M1074.2 1995.4L1143.3 2020"/>
</g>

<!-- 90_text.svg -->
<g id="labels">
<text x="934.5" y="726" textLength="38.5" lengthAdjust="spacingAndGlyphs">A</text>
<text x="1881.2" y="763" textLength="262.0" lengthAdjust="spacingAndGlyphs">BRACKET</text>
<text x="1925.5" y="822.3" textLength="174.5" lengthAdjust="spacingAndGlyphs">10-070</text>
<text x="1801.5" y="941.8" textLength="524.0" lengthAdjust="spacingAndGlyphs" xml:space="preserve">AIR  COLD  BUFFER</text>
<text x="1926.3" y="1001.2" textLength="274.2" lengthAdjust="spacingAndGlyphs" xml:space="preserve">AIR  TUBE</text>
<text x="1980.5" y="1060.3" textLength="173.0" lengthAdjust="spacingAndGlyphs">10-100</text>
<text x="1116.5" y="901.3" textLength="148.0" lengthAdjust="spacingAndGlyphs">BOLT</text>
<text x="1105.2" y="960" textLength="173.7" lengthAdjust="spacingAndGlyphs">10-114</text>
<text x="1106.3" y="1019" textLength="169.2" lengthAdjust="spacingAndGlyphs" xml:space="preserve">(3  off)</text>
<text x="1351.5" y="1033.5" textLength="260.4" lengthAdjust="spacingAndGlyphs">BRACKET</text>
<text x="1394.9" y="1093.2" textLength="173.6" lengthAdjust="spacingAndGlyphs">10-060</text>
<text x="658.5" y="1084.9" textLength="148.8" lengthAdjust="spacingAndGlyphs">BOLT</text>
<text x="642.5" y="1144.7" textLength="178.4" lengthAdjust="spacingAndGlyphs">08-106</text>
<text x="648.3" y="1204.4" textLength="167.5" lengthAdjust="spacingAndGlyphs" xml:space="preserve">(3  off)</text>
<text x="382.9" y="1305.2" textLength="275.1" lengthAdjust="spacingAndGlyphs" style="stroke:#000;stroke-width:1.2">FORWARD</text>
<text x="1133.1" y="1349" textLength="248.8" lengthAdjust="spacingAndGlyphs">WASHER</text>
<text x="1170.0" y="1408.8" textLength="177.8" lengthAdjust="spacingAndGlyphs">08-108</text>
<text x="2347.8" y="1253.5" textLength="249.5" lengthAdjust="spacingAndGlyphs">WASHER</text>
<text x="2387.8" y="1313.3" textLength="174.3" lengthAdjust="spacingAndGlyphs">10-116</text>
<text x="407.9" y="1934" textLength="522.0" lengthAdjust="spacingAndGlyphs" xml:space="preserve">AIR  COLD  BUFFER</text>
<text x="534.3" y="1992" textLength="272.0" lengthAdjust="spacingAndGlyphs" xml:space="preserve">AIR  TUBE</text>
<text x="566.0" y="2051.8" textLength="212.0" lengthAdjust="spacingAndGlyphs">(08-100)</text>
<text x="2037.3" y="2372.7" textLength="500.2" lengthAdjust="spacingAndGlyphs" xml:space="preserve">DUCT  ASSEMBLY</text>
<text x="1258.1" y="2644" textLength="922.5" lengthAdjust="spacingAndGlyphs" xml:space="preserve">NO.  4  BEARING  COMPARTMENT</text>
<text x="1543.1" y="2700.8" textLength="351.9" lengthAdjust="spacingAndGlyphs" xml:space="preserve">AIR  COOLER</text>
<text x="1629.8" y="2867" textLength="214.4" lengthAdjust="spacingAndGlyphs" xml:space="preserve">VIEW  A</text>
<text x="790.5" y="2872.5" textLength="494.4" lengthAdjust="spacingAndGlyphs" xml:space="preserve">DUCT  ASSEMBLY</text>
<text x="843.9" y="2932.2" textLength="387.6" lengthAdjust="spacingAndGlyphs" xml:space="preserve">OF  AIR  INLET</text>
<text x="237.1" y="3012.6" textLength="1133.2" lengthAdjust="spacingAndGlyphs" xml:space="preserve">All  EIPC  Fig / Item  numbers  are  75-22-49</text>
<text x="2498.8" y="3044" textLength="154.8" lengthAdjust="spacingAndGlyphs" style="font-size:56px">19278</text>
</g>

</svg>
</body></html>
